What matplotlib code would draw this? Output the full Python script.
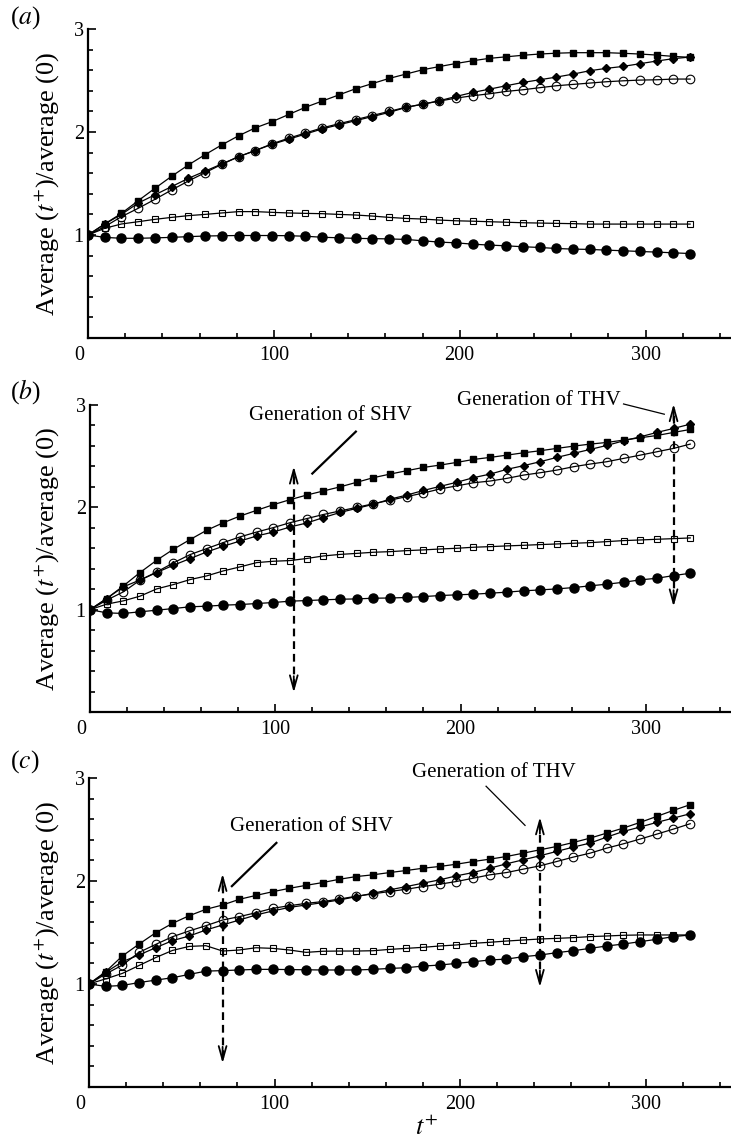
import matplotlib
matplotlib.use("Agg")
import matplotlib.pyplot as plt
from matplotlib.ticker import MultipleLocator, FixedLocator

plt.rcParams['font.family'] = ['Liberation Serif', 'DejaVu Serif']
plt.rcParams['mathtext.fontset'] = 'stix'

# time axis (t+), same for all panels
t = [0, 9, 18, 27, 36, 45, 54, 63, 72, 81, 90, 99, 108, 117, 126, 135, 144, 153, 162,
     171, 180, 189, 198, 207, 216, 225, 234, 243, 252, 261, 270, 279, 288, 297, 306, 315, 324]

# panel (a)
a_sq = [1.00, 1.107, 1.21, 1.333, 1.453, 1.570, 1.68, 1.78, 1.875, 1.963, 2.04, 2.10, 2.17,
        2.24, 2.30, 2.36, 2.42, 2.47, 2.52, 2.562, 2.604, 2.635, 2.665, 2.692, 2.715,
        2.73, 2.745, 2.757, 2.765, 2.77, 2.77, 2.77, 2.764, 2.757, 2.747, 2.734, 2.725]
a_di = [1.00, 1.107, 1.20, 1.31, 1.39, 1.47, 1.55, 1.62, 1.69, 1.76, 1.82, 1.88, 1.93, 1.98,
        2.03, 2.07, 2.11, 2.15, 2.19, 2.238, 2.27, 2.303, 2.345, 2.384, 2.416, 2.449, 2.481,
        2.507, 2.533, 2.562, 2.595, 2.618, 2.637, 2.663, 2.689, 2.712, 2.728]
a_oc = [1.00, 1.081, 1.178, 1.259, 1.346, 1.437, 1.524, 1.605, 1.686, 1.76, 1.82, 1.885, 1.94,
        1.99, 2.04, 2.08, 2.12, 2.16, 2.2, 2.24, 2.27, 2.30, 2.329, 2.352, 2.371, 2.394, 2.41,
        2.43, 2.449, 2.462, 2.475, 2.488, 2.497, 2.504, 2.507, 2.514, 2.514]
a_os = [1.00, 1.065, 1.107, 1.129, 1.152, 1.171, 1.188, 1.2, 1.214, 1.227, 1.227, 1.22, 1.214,
        1.21, 1.207, 1.2, 1.194, 1.184, 1.171, 1.161, 1.155, 1.145, 1.138, 1.134, 1.129, 1.124,
        1.119, 1.116, 1.113, 1.11, 1.106, 1.106, 1.106, 1.106, 1.106, 1.106, 1.106]
a_fc = [1.00, 0.977, 0.968, 0.968, 0.972, 0.977, 0.984, 0.99, 0.993, 0.995, 0.995, 0.995, 0.993,
        0.988, 0.978, 0.973, 0.967, 0.965, 0.962, 0.957, 0.944, 0.931, 0.924, 0.911, 0.902,
        0.895, 0.886, 0.879, 0.869, 0.863, 0.86, 0.853, 0.847, 0.84, 0.834, 0.827, 0.82]

# panel (b)
b_sq = [1.0, 1.109, 1.232, 1.363, 1.483, 1.59, 1.685, 1.776, 1.85, 1.915, 1.971, 2.026, 2.075,
        2.12, 2.16, 2.20, 2.245, 2.29, 2.325, 2.358, 2.39, 2.413, 2.439, 2.468, 2.488, 2.51,
        2.533, 2.553, 2.576, 2.598, 2.618, 2.634, 2.657, 2.68, 2.702, 2.732, 2.761]
b_di = [1.0, 1.109, 1.223, 1.29, 1.363, 1.434, 1.499, 1.564, 1.62, 1.671, 1.72, 1.759, 1.808,
        1.847, 1.90, 1.95, 1.99, 2.03, 2.08, 2.12, 2.165, 2.205, 2.245, 2.29, 2.325, 2.371,
        2.407, 2.446, 2.488, 2.527, 2.566, 2.605, 2.65, 2.689, 2.732, 2.771, 2.813]
b_oc = [1.0, 1.093, 1.174, 1.288, 1.369, 1.457, 1.538, 1.597, 1.656, 1.711, 1.759, 1.802, 1.85,
        1.89, 1.93, 1.965, 2.00, 2.035, 2.07, 2.105, 2.14, 2.18, 2.21, 2.24, 2.257, 2.283,
        2.315, 2.338, 2.364, 2.397, 2.423, 2.446, 2.478, 2.51, 2.543, 2.576, 2.618]
b_os = [1.0, 1.054, 1.086, 1.132, 1.203, 1.245, 1.294, 1.33, 1.379, 1.418, 1.46, 1.473, 1.48,
        1.50, 1.525, 1.54, 1.55, 1.561, 1.567, 1.577, 1.584, 1.593, 1.6, 1.61, 1.616, 1.623,
        1.629, 1.636, 1.642, 1.649, 1.655, 1.665, 1.675, 1.681, 1.688, 1.694, 1.701]
b_fc = [1.0, 0.969, 0.963, 0.979, 0.995, 1.011, 1.028, 1.034, 1.044, 1.05, 1.06, 1.07, 1.083,
        1.089, 1.096, 1.102, 1.105, 1.112, 1.114, 1.119, 1.128, 1.138, 1.145, 1.151, 1.161,
        1.171, 1.184, 1.193, 1.203, 1.216, 1.233, 1.249, 1.268, 1.291, 1.307, 1.333, 1.356]

# panel (c)
c_sq = [1.0, 1.12, 1.272, 1.388, 1.498, 1.589, 1.663, 1.725, 1.767, 1.822, 1.86, 1.896, 1.929,
        1.958, 1.985, 2.017, 2.043, 2.06, 2.082, 2.102, 2.124, 2.141, 2.163, 2.189, 2.212,
        2.238, 2.27, 2.303, 2.335, 2.374, 2.416, 2.465, 2.514, 2.569, 2.627, 2.686, 2.741]
c_di = [1.0, 1.113, 1.217, 1.282, 1.353, 1.421, 1.466, 1.524, 1.573, 1.621, 1.67, 1.709, 1.744,
        1.767, 1.79, 1.816, 1.848, 1.881, 1.914, 1.946, 1.979, 2.011, 2.05, 2.082, 2.124,
        2.167, 2.206, 2.245, 2.287, 2.329, 2.368, 2.426, 2.481, 2.524, 2.569, 2.611, 2.653]
c_oc = [1.0, 1.097, 1.184, 1.307, 1.385, 1.459, 1.515, 1.566, 1.621, 1.654, 1.692, 1.735, 1.76,
        1.783, 1.80, 1.825, 1.852, 1.875, 1.898, 1.92, 1.946, 1.969, 1.995, 2.027, 2.06,
        2.082, 2.115, 2.147, 2.189, 2.232, 2.27, 2.319, 2.361, 2.407, 2.455, 2.504, 2.556]
c_os = [1.0, 1.05, 1.103, 1.18, 1.257, 1.326, 1.365, 1.372, 1.32, 1.33, 1.352, 1.346, 1.33,
        1.307, 1.318, 1.32, 1.32, 1.323, 1.336, 1.346, 1.356, 1.369, 1.379, 1.395, 1.405,
        1.417, 1.427, 1.437, 1.443, 1.45, 1.46, 1.466, 1.473, 1.476, 1.476, 1.476, 1.476]
c_fc = [1.0, 0.977, 0.986, 1.014, 1.038, 1.061, 1.093, 1.125, 1.13, 1.136, 1.142, 1.142, 1.14,
        1.138, 1.136, 1.136, 1.136, 1.142, 1.151, 1.158, 1.174, 1.184, 1.2, 1.216, 1.233,
        1.242, 1.265, 1.281, 1.304, 1.323, 1.346, 1.369, 1.388, 1.411, 1.434, 1.46, 1.476]

# annotations: (x, y_bottom, y_top) of dashed double arrows
b_arrows = [(110, 0.19, 2.40), (315, 1.03, 3.01)]
c_arrows = [(72, 0.23, 2.07), (243, 0.97, 2.62)]
# text: (x, y, string), leader lines: ((x0, x1), (y0, y1), width)
b_texts = [(86, 2.90, 'Generation of SHV'), (198, 3.04, 'Generation of THV')]
b_leaders = [((120, 143.5), (2.33, 2.74), 1.6), ((288, 310), (3.01, 2.91), 0.9)]
c_texts = [(76, 2.53, 'Generation of SHV'), (174, 3.05, 'Generation of THV')]
c_leaders = [((77, 101), (1.95, 2.37), 1.6), ((214, 235), (2.92, 2.54), 0.9)]

fig = plt.figure(figsize=(7.31, 11.4), dpi=100)
W, H = 731.0, 1140.0
boxes = [(88, 338, 29), (90, 712, 405), (89, 1087, 778)]  # left px, bottom px, top px

panels = [(a_sq, a_di, a_oc, a_os, a_fc, [], [], []),
          (b_sq, b_di, b_oc, b_os, b_fc, b_arrows, b_texts, b_leaders),
          (c_sq, c_di, c_oc, c_os, c_fc, c_arrows, c_texts, c_leaders)]
letters = ['a', 'b', 'c']
lab_y = [18, 392, 762]

for k, (sq, di, oc, os_, fc, arrows, texts, leaders) in enumerate(panels):
    left, bot, top = boxes[k]
    ax = fig.add_axes([left / W, 1 - bot / H, (W - left) / W, (bot - top) / H])
    ax.plot(t, os_, '-', color='k', lw=0.9, marker='s', ms=4.2, mfc='none', mew=0.8)
    ax.plot(t, fc, '-', color='k', lw=0.9, marker='o', ms=6.5)
    ax.plot(t, sq, '-', color='k', lw=0.9, marker='s', ms=4.2)
    ax.plot(t, di, '-', color='k', lw=0.9, marker='D', ms=3.8)
    ax.plot(t, oc, '-', color='k', lw=0.9, marker='o', ms=6.2, mfc='none', mew=0.8)

    for x, y0, y1 in arrows:
        ax.plot([x, x], [y0 + 0.05, y1 - 0.05], color='k', lw=1.6, dashes=(3.5, 2.2),
                clip_on=False)
        for ya, yb in [(y1, y1 - 0.16), (y0, y0 + 0.16)]:
            ax.annotate('', xy=(x, ya), xytext=(x, yb), annotation_clip=False,
                        arrowprops=dict(arrowstyle='->,head_length=1.0,head_width=0.28',
                                        color='k', lw=1.3, shrinkA=0, shrinkB=0))
    for x, y, s in texts:
        ax.text(x, y, s, fontsize=15, ha='left', va='center')
    for xs, ys, w in leaders:
        ax.plot(xs, ys, color='k', lw=w, clip_on=False)

    ax.set_xlim(0, 346)
    ax.set_ylim(0, 3)
    ax.spines['top'].set_visible(False)
    ax.spines['right'].set_visible(False)
    ax.spines['left'].set_linewidth(1.6)
    ax.spines['bottom'].set_linewidth(1.6)
    ax.xaxis.set_major_locator(FixedLocator([0, 100, 200, 300]))
    ax.xaxis.set_minor_locator(MultipleLocator(20))
    ax.yaxis.set_major_locator(FixedLocator([1, 2, 3]))
    ax.yaxis.set_minor_locator(MultipleLocator(0.2))
    ax.set_xticklabels(['', '100', '200', '300'])
    ax.tick_params(which='both', direction='in', labelsize=14.5, width=1.2)
    ax.tick_params(which='major', length=5.5)
    ax.tick_params(which='minor', length=3.5)
    ax.tick_params(axis='y', pad=3)
    ax.tick_params(axis='x', pad=6)
    # the "0" label sits a little left of the origin in the original
    ax.annotate('0', xy=(0, 0), xycoords=('data', 'axes fraction'), xytext=(-6.5, -6),
                textcoords='offset points', ha='center', va='top', fontsize=14.5)

    fig.text(47 / W, 1 - (bot + top) / 2 / H, r'Average ($t^{+}$)/average (0)',
             rotation=90, ha='center', va='center', fontsize=19)
    fig.text(10 / W, 1 - lab_y[k] / H, '($' + letters[k] + '$)', ha='left', va='center',
             fontsize=18.5)

fig.text(427 / W, 1 - 1128 / H, r'$t^{+}$', ha='center', va='center', fontsize=19)

fig.savefig('out.png', dpi=100)
